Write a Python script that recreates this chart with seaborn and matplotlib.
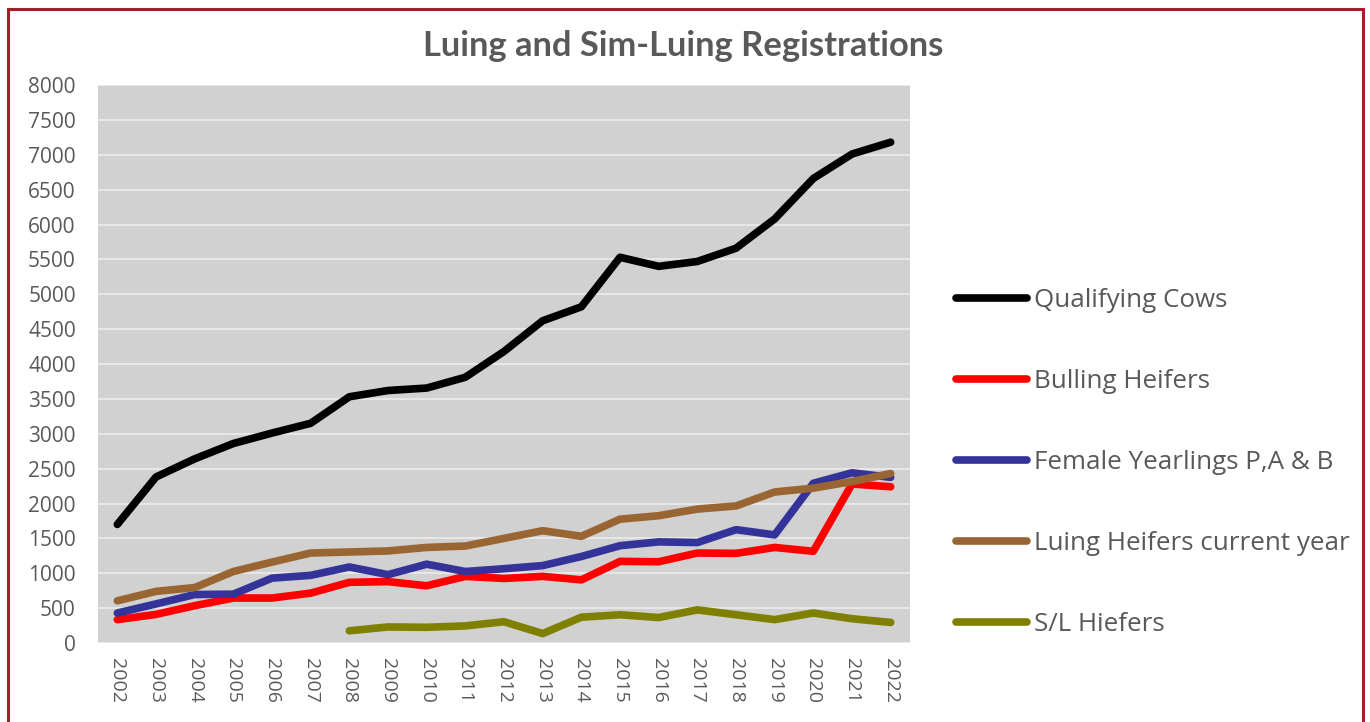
import numpy as np
import pandas as pd
import matplotlib
matplotlib.use("Agg")
import matplotlib.pyplot as plt
import seaborn as sns
from matplotlib.patches import Rectangle

# data
years = list(range(2002, 2023))

qualifying_cows = [1700, 2380, 2640, 2860, 3010, 3150, 3530, 3620, 3655, 3810, 4180,
                   4620, 4820, 5530, 5400, 5470, 5660, 6080, 6660, 7010, 7180]
bulling_heifers = [335, 410, 535, 645, 645, 715, 870, 880, 820, 955, 925,
                   955, 905, 1170, 1165, 1290, 1285, 1370, 1315, 2280, 2240]
female_yearlings = [430, 560, 695, 700, 930, 970, 1090, 980, 1130, 1025, 1065,
                    1110, 1240, 1395, 1450, 1440, 1625, 1550, 2290, 2440, 2375]
luing_heifers = [605, 740, 795, 1025, 1160, 1290, 1305, 1320, 1370, 1390, 1500,
                 1610, 1530, 1775, 1825, 1920, 1965, 2165, 2220, 2315, 2430]
sl_heifers = [np.nan] * 6 + [175, 230, 225, 245, 305, 135, 370, 405, 365, 475,
                             405, 335, 430, 348, 295]

series_names = ["Qualifying Cows", "Bulling Heifers", "Female Yearlings P,A & B",
                "Luing Heifers current year", "S/L Hiefers"]
series_values = [qualifying_cows, bulling_heifers, female_yearlings, luing_heifers, sl_heifers]
series_colors = ["#000000", "#FF0000", "#333399", "#996633", "#808000"]

sns.set_style("white")
plt.rcParams['font.family'] = ['Open Sans', 'DejaVu Sans']

fig = plt.figure(figsize=(13.7, 7.22), dpi=100)
ax = fig.add_axes([98 / 1370, 1 - 643 / 722, (910 - 98) / 1370, (643 - 85) / 722])
ax.set_facecolor("#D1D1D1")

for name, vals, col in zip(series_names, series_values, series_colors):
    df = pd.DataFrame({"year": years, "value": vals}).dropna()
    sns.lineplot(data=df, x="year", y="value", ax=ax, color=col, linewidth=5.5,
                 label=name, solid_capstyle="round", solid_joinstyle="round")

ax.set_xlim(2001.5, 2022.5)
ax.set_ylim(0, 8000)
ax.set_yticks(range(0, 8001, 500))
ax.set_xticks(years)
ax.set_xticklabels([str(y) for y in years], rotation=-90)
ax.grid(axis="y", color="#EAEAEA", linewidth=1.3)
ax.set_axisbelow(True)
for s in ax.spines.values():
    s.set_visible(False)
ax.tick_params(axis="y", length=0, pad=16, labelsize=15, labelcolor="#595959")
ax.tick_params(axis="x", length=0, pad=11, labelsize=14, labelcolor="#595959")
ax.set_xlabel("")
ax.set_ylabel("")

ax.get_legend().remove()
handles, labels = ax.get_legend_handles_labels()
fig.legend(handles, labels, loc="upper left", bbox_to_anchor=(956 / 1370, 1 - 288 / 722),
           frameon=False, fontsize=18.7, labelcolor="#595959", handlelength=2.75,
           handletextpad=0.25, labelspacing=2.16, borderpad=0, borderaxespad=0)

fig.text(683 / 1370, 1 - 46 / 722, "Luing and Sim-Luing Registrations", ha="center",
         va="center", fontsize=24.8, fontweight="bold", color="#595959",
         family=["Lato", "DejaVu Sans"])

fig.patches.append(Rectangle((7.5 / 1370, -0.1), (1362.5 - 7.5) / 1370, 1.1 - 9 / 722,
                             transform=fig.transFigure, fill=False,
                             edgecolor="#A3202A", linewidth=2.2))

fig.savefig("out.png", dpi=100)
